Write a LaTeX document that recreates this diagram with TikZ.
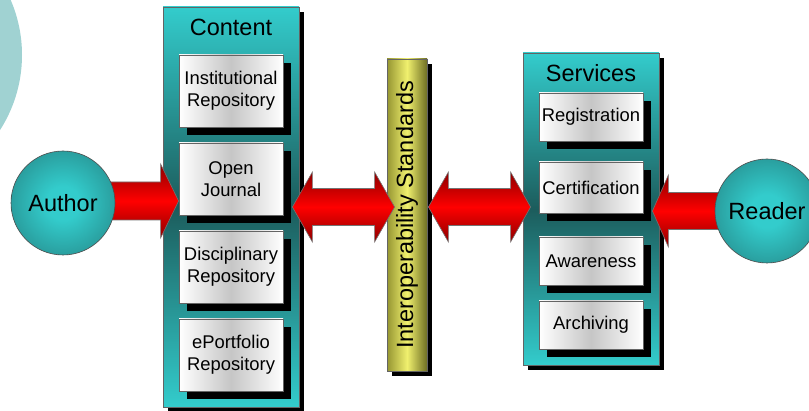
\documentclass[tikz,border=0pt]{standalone}
\usepackage{fontspec}
\setmainfont{Liberation Sans}
\usetikzlibrary{calc,shadows}
\definecolor{tealL}{RGB}{51,204,204}
\definecolor{tealD}{RGB}{28,92,92}
\definecolor{bgc}{RGB}{160,210,210}
\definecolor{redD}{RGB}{140,0,0}
\definecolor{redM}{RGB}{255,0,0}
\definecolor{olvL}{RGB}{150,150,50}
\definecolor{olvR}{RGB}{110,110,35}
\definecolor{ylw}{RGB}{240,240,110}
\definecolor{edgec}{RGB}{100,100,100}
\pgfdeclareradialshading{tealball}{\pgfpointorigin}{color(0bp)=(tealL); color(8bp)=(tealL); color(50bp)=(tealD)}
\tikzset{
  shd/.style={general shadow={fill=black, shadow xshift=#1, shadow yshift=-#1}},
  panel/.style={draw=edgec, line width=0.8pt, minimum width=136, inner sep=0,
    top color=tealL, bottom color=tealL, middle color=tealD, shd=5pt},
  item/.style={draw=edgec, line width=0.8pt, minimum width=104, inner sep=0,
    left color=white, right color=white, middle color=gray!45, align=center,
    font=\fontsize{18.4}{22}\selectfont, shd=8pt},
  bigtext/.style={font=\fontsize{23.5}{28}\selectfont, inner sep=0},
  ball/.style={circle, draw=black!70, line width=0.6pt, shading=tealball,
    minimum size=104, inner sep=0, font=\fontsize{23.5}{28}\selectfont},
  bararrow/.style={draw=black!55, line width=0.6pt, top color=redD,
    bottom color=redD, middle color=redM},
  barstyle/.style={draw=edgec, line width=0.8pt, minimum width=40, minimum height=312,
    inner sep=0, left color=olvL, right color=olvR, middle color=ylw, shd=5pt}
}
\newcommand\dblarrowpath[2]{%
  \draw[bararrow] (#1) -- ($(#1)+(20,-35)$) -- ($(#1)+(20,-18.5)$) -- ($(#2)+(-20,-18.5)$)
    -- ($(#2)+(-20,-35)$) -- (#2) -- ($(#2)+(-20,35)$) -- ($(#2)+(-20,18.5)$)
    -- ($(#1)+(20,18.5)$) -- ($(#1)+(20,35)$) -- cycle;}
\begin{document}
\begin{tikzpicture}[x=1pt,y=-1pt]
\useasboundingbox (0,0) rectangle (809,411);
\clip (0,0) rectangle (809,411);
% background circle
\fill[bgc] (-117,55) circle[radius=139];
% panels
\node[panel, minimum height=400] (content) at (231,207) {};
\node[panel, minimum height=312] (services) at (591,209) {};
\node[barstyle] (bar) at (407,215) {};
\node[bigtext, rotate=90] (bartext) at (407,215) {Interoperability Standards};
\node[bigtext] (ctitle) at (231,27) {Content};
\node[bigtext] (stitle) at (591,73.5) {Services};
% circles positions (drawn later)
\path (63,203) coordinate (authorc);
\path (767,211) coordinate (readerc);
% content items
\node[item, minimum height=72] (inst) at (231,91) {Institutional\\Repository};
\node[item, minimum height=72] (oj) at (231,179) {Open\\Journal};
\node[item, minimum height=72] (disc) at (231,267) {Disciplinary\\Repository};
\node[item, minimum height=72] (eport) at (231,355) {ePortfolio\\Repository};
% services items
\node[item, minimum height=48] (reg) at (591,117) {Registration};
\node[item, minimum height=51] (cert) at (591,187.5) {Certification};
\node[item, minimum height=48] (aware) at (591,261) {Awareness};
\node[item, minimum height=48] (arch) at (591,325) {Archiving};
% arrow end points
\coordinate (a1L) at ($(content.east)+(-7,0)$);
\coordinate (a1R) at ($(bar.west |- content.east)+(8,0)$);
\coordinate (a2L) at ($(bar.east |- content.east)+(1,0)$);
\coordinate (a2R) at ($(services.west |- content.east)+(8,0)$);
\coordinate (atip) at ($(oj.west |- authorc)+(0,-2)$);
\coordinate (atail) at (authorc |- atip);
\coordinate (rtip) at ($(cert.east |- readerc)+(9,0)$);
% double arrows
\dblarrowpath{a1L}{a1R}
\dblarrowpath{a2L}{a2R}
% author arrow
\draw[bararrow] ($(atail)+(0,-19)$) -- ($(atip)+(-18,-19)$) -- ($(atip)+(-18,-37)$)
  -- (atip) -- ($(atip)+(-18,37)$) -- ($(atip)+(-18,19)$) -- ($(atail)+(0,19)$) -- cycle;
% reader arrow
\draw[bararrow] ($(readerc)+(0,-18.5)$) -- ($(rtip)+(16,-18.5)$) -- ($(rtip)+(16,-36)$)
  -- (rtip) -- ($(rtip)+(16,36)$) -- ($(rtip)+(16,18.5)$) -- ($(readerc)+(0,18.5)$) -- cycle;
% circles
\node[ball] (author) at (authorc) {Author};
\node[ball] (reader) at (readerc) {Reader};
\end{tikzpicture}
\end{document}
